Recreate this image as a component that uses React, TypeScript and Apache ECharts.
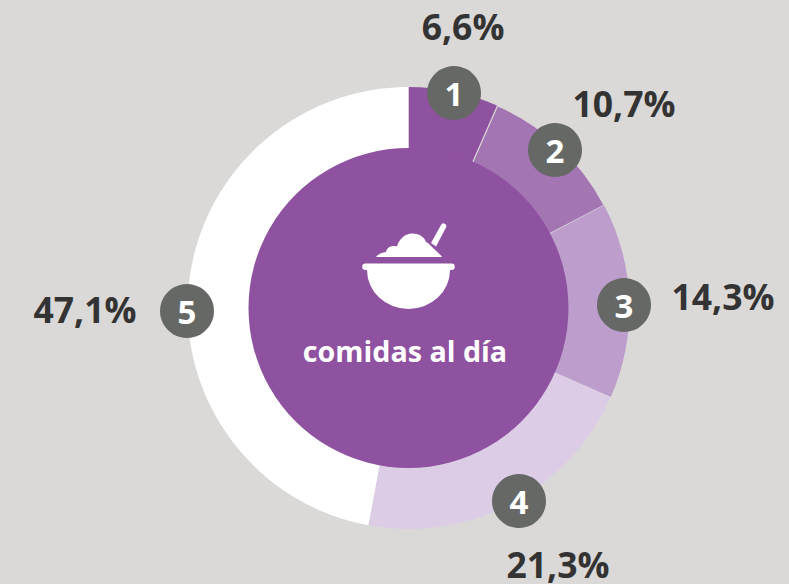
import React, { useEffect, useRef } from "react";
import * as echarts from "echarts";

const categories = ["1", "2", "3", "4", "5"];
const values = [6.6, 10.7, 14.3, 21.3, 47.1];
const valueLabels = ["6,6%", "10,7%", "14,3%", "21,3%", "47,1%"];
const colors = ["#8f52a0", "#a475b3", "#bc9dcc", "#dccce5", "#ffffff"];
const centerLabel = "comidas al día";

const badgeX = [454, 555, 624, 519, 187];
const badgeY = [93, 150, 305, 501, 311];
const labelX = [463, 624, 723, 558, 85];
const labelY = [26, 103, 296, 564, 309];

const BOWL =
  "M365.5 263.5 L451.5 263.5 A3.2 3.2 0 0 1 451.5 270 L450 270 A41.5 39 0 0 1 367 270 L365.5 270 A3.2 3.2 0 0 1 365.5 263.5 Z " +
  "M376 257 C378 254 382 252.5 386 252 C387 247 392 245 397 246.5 C399 239 405 234 411 233.5 C418 233 424 236 426 242 C428 243 430 244.5 431 246 L441 255.5 L442 257 Z " +
  "M431 243 L441 225 A2.6 2.6 0 0 1 446 227.5 L436 246.5 Z";

echarts.graphic.registerShape("bowl", echarts.graphic.extendPath(BOWL, {}));

const FONT = '"Open Sans", sans-serif';

export default function App() {
  const ref = useRef<HTMLDivElement>(null);
  useEffect(() => {
    const chart = echarts.init(ref.current!, undefined, { renderer: "svg" });
    const center = [408.5, 308];
    chart.setOption({
      animation: false,
      backgroundColor: "#dad9d7",
      series: [
        {
          type: "pie",
          silent: true,
          center,
          radius: [155, 221],
          startAngle: 90,
          clockwise: true,
          label: { show: false },
          labelLine: { show: false },
          data: categories.map((name, i) => ({
            name,
            value: values[i],
            itemStyle:
              i === 1
                ? { color: colors[i], borderColor: "#dad9d7", borderWidth: 1.2 }
                : { color: colors[i] },
          })),
        },
        {
          type: "pie",
          silent: true,
          center,
          radius: [0, 160],
          z: 3,
          label: { show: false },
          labelLine: { show: false },
          data: [{ name: centerLabel, value: 1, itemStyle: { color: colors[0] } }],
        },
      ],
      graphic: [
        { type: "bowl", x: 0, y: 0, z: 10, style: { fill: "#ffffff" } },
        {
          type: "text",
          z: 10,
          x: 405,
          y: 350,
          style: {
            text: centerLabel,
            fill: "#ffffff",
            font: `700 28.7px ${FONT}`,
            align: "center",
            verticalAlign: "middle",
          },
        },
        ...categories.flatMap((c, i) => [
          {
            type: "circle",
            z: 11,
            shape: { cx: badgeX[i], cy: badgeY[i], r: 27 },
            style: { fill: "#666866" },
          },
          {
            type: "text",
            z: 12,
            x: badgeX[i],
            y: badgeY[i],
            style: {
              text: c,
              fill: "#ffffff",
              font: `700 33px ${FONT}`,
              align: "center",
              verticalAlign: "middle",
            },
          },
          {
            type: "text",
            z: 12,
            x: labelX[i],
            y: labelY[i],
            style: {
              text: valueLabels[i],
              fill: "#333333",
              font: `700 35.5px ${FONT}`,
              lineHeight: 30,
              align: "center",
              verticalAlign: "middle",
            },
          },
        ]),
      ],
    });
    return () => chart.dispose();
  }, []);
  return (
    <div
      ref={ref}
      style={{ position: "fixed", left: 0, top: 0, width: 789, height: 584 }}
    />
  );
}
